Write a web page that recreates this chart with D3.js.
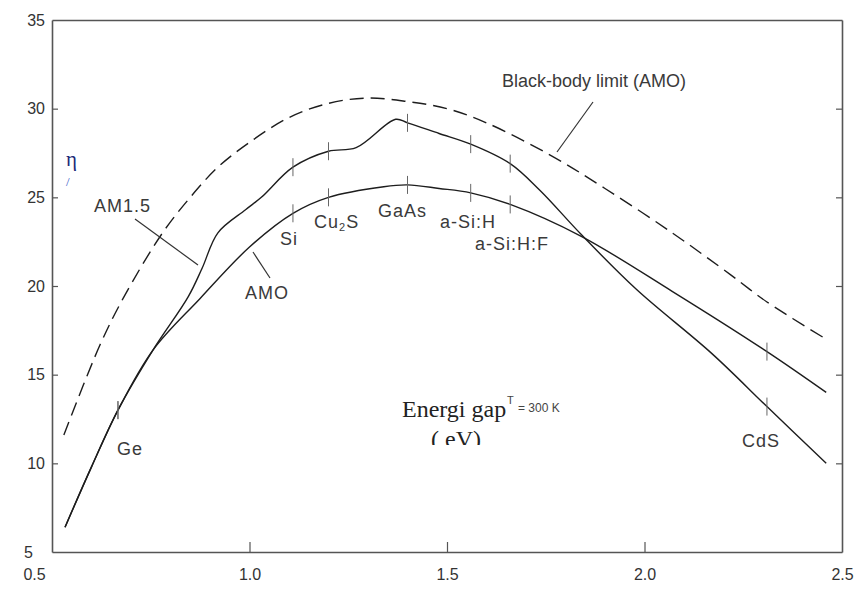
<!DOCTYPE html>
<html>
<head>
<meta charset="utf-8">
<script src="https://cdn.jsdelivr.net/npm/d3@7/dist/d3.min.js"></script>
<style>
  body { margin: 0; background: #fff; }
  .tick-label { font-family: "Liberation Sans", Arial, sans-serif; font-size: 16px; fill: #333; }
  .lbl { font-family: "Liberation Sans", Arial, sans-serif; font-size: 18px; fill: #3a3a3a; letter-spacing: 1px; }
  .serif { font-family: "Liberation Serif", "Times New Roman", serif; }
</style>
</head>
<body>
<script>
// efficiency (%) vs band gap (eV)
const bbGap  = [0.53, 0.62, 0.68, 0.78, 0.85, 0.92, 1.0, 1.1, 1.2, 1.3, 1.4, 1.5, 1.6, 1.76, 1.9, 2.07, 2.22, 2.31, 2.46];
const bbEta  = [11.6, 16.6, 19.3, 23.0, 25.0, 26.7, 28.1, 29.5, 30.3, 30.6, 30.4, 30.0, 29.2, 27.4, 25.5, 23.0, 20.6, 19.1, 17.0];

const am15Gap = [0.533, 0.6, 0.667, 0.756, 0.845, 0.88, 0.92, 0.99, 1.03, 1.11, 1.2, 1.27, 1.37, 1.4, 1.48, 1.56, 1.66, 1.735, 1.84, 1.98, 2.17, 2.31, 2.46];
const am15Eta = [6.4, 9.8, 13.0, 16.4, 19.4, 21.0, 23.0, 24.3, 25.0, 26.7, 27.6, 27.8, 29.4, 29.2, 28.6, 28.0, 26.9, 25.4, 22.9, 19.8, 16.2, 13.2, 10.0];

const am0Gap = [0.533, 0.6, 0.667, 0.756, 0.875, 1.0, 1.11, 1.2, 1.34, 1.4, 1.48, 1.56, 1.66, 1.84, 2.07, 2.31, 2.46];
const am0Eta = [6.4, 9.8, 13.0, 16.4, 19.3, 22.2, 24.1, 25.0, 25.6, 25.7, 25.5, 25.25, 24.6, 22.8, 19.7, 16.3, 14.0];

const materials   = ["Ge", "Si", "Cu2S", "GaAs", "a-Si:H", "a-Si:H:F", "CdS"];
const materialGap = [0.667, 1.11, 1.2, 1.40, 1.56, 1.66, 2.31];

const xTicks = [0.5, 1.0, 1.5, 2.0, 2.5];
const yTicks = [5, 10, 15, 20, 25, 30, 35];

const W = 861, H = 590;
const x = d3.scaleLinear().domain([0.5, 2.5]).range([52, 842]);
const y = d3.scaleLinear().domain([5, 35]).range([552, 20]);

const svg = d3.select("body").append("svg")
  .attr("width", W).attr("height", H);

// frame + axes
const frameColor = "#555";
const gL = svg.append("g").attr("transform", `translate(${x(0.5)},0)`)
  .call(d3.axisLeft(y).tickValues(yTicks).tickSizeInner(-6).tickSizeOuter(0).tickPadding(7).tickFormat(d3.format("d")));
const gB = svg.append("g").attr("transform", `translate(0,${y(5)})`)
  .call(d3.axisBottom(x).tickValues(xTicks).tickSizeInner(-10).tickSizeOuter(0).tickPadding(17).tickFormat(d3.format(".1f")));
const gR = svg.append("g").attr("transform", `translate(${x(2.5)},0)`)
  .call(d3.axisRight(y).tickValues(yTicks.slice(1, -1)).tickSizeInner(-6).tickSizeOuter(0).tickFormat(""));
const gT = svg.append("g").attr("transform", `translate(0,${y(35)})`)
  .call(d3.axisTop(x).tickValues([]).tickSizeOuter(0));

[gL, gB, gR, gT].forEach(g => {
  g.select(".domain").attr("stroke", frameColor).attr("stroke-width", 1.6);
  g.selectAll(".tick line").attr("stroke", frameColor).attr("stroke-width", 1.2);
  g.selectAll("text").attr("class", "tick-label").attr("fill", null);
});
// end ticks sit on the frame corners
gB.selectAll(".tick").filter(d => d === 0.5 || d === 2.5).select("line").remove();
gL.selectAll(".tick").filter(d => d === 5 || d === 35).select("line").remove();
gB.selectAll(".tick").filter(d => d === 0.5).select("text").attr("dx", -18);
gL.selectAll(".tick").filter(d => d === 5).select("text").attr("dx", -12);

// curves
const line = d3.line()
  .x(d => x(d[0])).y(d => y(d[1]))
  .curve(d3.curveCatmullRom.alpha(0.5));

const curveStyle = g => g.attr("fill", "none").attr("stroke", "#1d1d1d").attr("stroke-width", 1.4);

svg.append("path").datum(d3.zip(bbGap, bbEta)).attr("d", line).call(curveStyle)
  .attr("stroke-dasharray", "14,7");
svg.append("path").datum(d3.zip(am15Gap, am15Eta)).attr("d", line).call(curveStyle);
svg.append("path").datum(d3.zip(am0Gap, am0Eta)).attr("d", line).call(curveStyle);

// material markers on both solid curves
const am15At = d3.scaleLinear().domain(am15Gap).range(am15Eta);
const am0At  = d3.scaleLinear().domain(am0Gap).range(am0Eta);
[am15At, am0At].forEach(f => {
  svg.append("g").selectAll("line")
    .data(materialGap)
    .join("line")
    .attr("x1", d => x(d)).attr("x2", d => x(d))
    .attr("y1", d => y(f(d)) - 9).attr("y2", d => y(f(d)) + 9)
    .attr("stroke", "#666").attr("stroke-width", 1);
});

// material labels
const labelPos = [[117, 455], [280, 245], [314, 228], [378, 217], [440, 228], [475, 250], [742, 447]];
materials.forEach((m, i) => {
  const t = svg.append("text").attr("class", "lbl")
    .attr("x", labelPos[i][0]).attr("y", labelPos[i][1]);
  if (m === "Cu2S") {
    t.append("tspan").text("Cu");
    t.append("tspan").text("2").attr("font-size", 11).attr("dy", 3);
    t.append("tspan").text("S").attr("dy", -3);
  } else {
    t.text(m);
  }
});

// curve names with leaders
const leader = (x1, y1, x2, y2) => svg.append("line")
  .attr("x1", x1).attr("y1", y1).attr("x2", x2).attr("y2", y2)
  .attr("stroke", "#333").attr("stroke-width", 1.2);

svg.append("text").attr("class", "lbl").attr("x", 94).attr("y", 212).text("AM1.5");
leader(135, 219, 198, 265);
svg.append("text").attr("class", "lbl").attr("x", 245).attr("y", 299).text("AMO");
leader(270, 278, 253, 252);
svg.append("text").attr("class", "lbl").attr("x", 502).attr("y", 87)
  .style("letter-spacing", "0px").attr("font-size", 17).text("Black-body limit (AMO)");
leader(593, 102, 557, 152);

// axis titles as in the scan
svg.append("text").attr("class", "serif").attr("x", 66).attr("y", 166)
  .attr("font-size", 21).attr("fill", "#1b2a78").text("η");
svg.append("text").attr("class", "serif").attr("x", 66).attr("y", 186)
  .attr("font-size", 13).attr("fill", "#3a5cc8").text("/");

svg.append("text").attr("class", "serif").attr("x", 402).attr("y", 417)
  .attr("font-size", 24).attr("fill", "#222").text("Energi gap");
svg.append("text").attr("x", 507).attr("y", 404)
  .attr("font-family", "Liberation Sans, Arial, sans-serif").attr("font-size", 11).attr("fill", "#444").text("T");
svg.append("text").attr("x", 518).attr("y", 412)
  .attr("font-family", "Liberation Sans, Arial, sans-serif").attr("font-size", 12).attr("fill", "#444").text("= 300 K");

svg.append("clipPath").attr("id", "cut")
  .append("rect").attr("x", 420).attr("y", 420).attr("width", 90).attr("height", 25);
svg.append("text").attr("class", "serif").attr("x", 431).attr("y", 447)
  .attr("font-size", 24).attr("fill", "#222").attr("clip-path", "url(#cut)").text("( eV)");
</script>
</body>
</html>
